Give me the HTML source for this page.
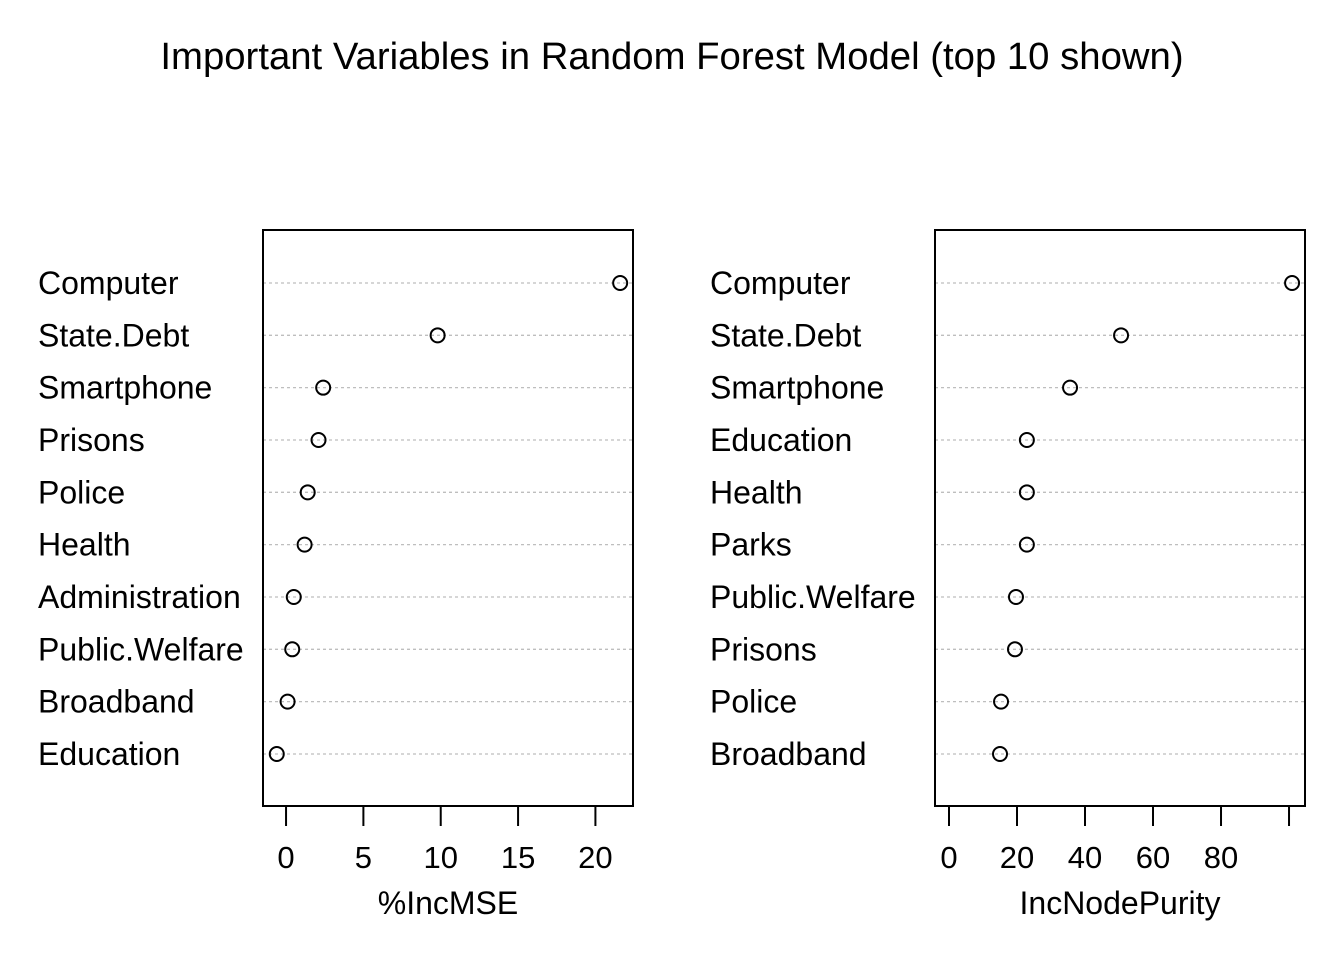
<!DOCTYPE html>
<html><head><meta charset="utf-8"><style>
body{margin:0;background:#fff}
svg text{font-family:"Liberation Sans",Arial,sans-serif;fill:#000}
</style></head><body>
<svg id="chart" width="1344" height="960" xmlns="http://www.w3.org/2000/svg">
<text x="672" y="69" font-size="38.3" text-anchor="middle">Important Variables in Random Forest Model (top 10 shown)</text>
<g id="p1"></g>
<g id="p2"></g>
</svg>
<script>
const mseLabels = ["Computer","State.Debt","Smartphone","Prisons","Police","Health","Administration","Public.Welfare","Broadband","Education"];
const mseValues = [21.6,9.8,2.4,2.1,1.4,1.2,0.5,0.4,0.1,-0.6];
const mseTicks = [0,5,10,15,20];
const purLabels = ["Computer","State.Debt","Smartphone","Education","Health","Parks","Public.Welfare","Prisons","Police","Broadband"];
const purValues = [100.9,50.6,35.6,22.9,22.9,22.9,19.7,19.4,15.3,15.0];
const purTicks = [0,20,40,60,80,100];
const purTickLabels = ["0","20","40","60","80",""];
const NS="http://www.w3.org/2000/svg";
function mk(g,tag,attrs){const e=document.createElementNS(NS,tag);for(const k in attrs)e.setAttribute(k,attrs[k]);g.appendChild(e);return e;}
function panel(gid,labels,values,ticks,tickLabels,bx0,bx1,xmin,xmax,labelX,title){
  const g=document.getElementById(gid);
  const by0=230,by1=806;
  const x=v=>bx0+(v-xmin)/(xmax-xmin)*(bx1-bx0);
  const y=i=>283+i*52.33;
  labels.forEach((l,i)=>{
    const ln=mk(g,'line',{x1:bx0,x2:bx1,y1:y(i),y2:y(i),stroke:'#bebebe','stroke-width':1.3,'stroke-dasharray':'3,3'});
    
    
    const t=mk(g,'text',{x:labelX,y:y(i)+11,'font-size':32});
    t.textContent=l;
    
    
    const c=mk(g,'circle',{cx:x(values[i]),cy:y(i),r:7,fill:'none',stroke:'#000','stroke-width':2});
    
    
  });
  const r=mk(g,'rect',{x:bx0,y:by0,width:bx1-bx0,height:by1-by0,fill:'none',stroke:'#000','stroke-width':2});
  
  
  ticks.forEach((tv,i)=>{
    const tl=mk(g,'line',{x1:x(tv),x2:x(tv),y1:by1,y2:by1+20,stroke:'#000','stroke-width':2});
    
    
    const tt=mk(g,'text',{x:x(tv),y:868,'font-size':31,'text-anchor':'middle'});
    tt.textContent=tickLabels[i];
    
    
  });
  const ax=mk(g,'line',{x1:x(ticks[0]),x2:x(ticks[ticks.length-1]),y1:by1,y2:by1,stroke:'#000','stroke-width':2});
  
  
  const at=mk(g,'text',{x:(bx0+bx1)/2,y:914,'font-size':32,'text-anchor':'middle'});
  at.textContent=title;
  
  
}
panel('p1',mseLabels,mseValues,mseTicks,mseTicks.map(String),263,633,-1.49,22.43,38,'%IncMSE');
panel('p2',purLabels,purValues,purTicks,purTickLabels,935,1305,-4.12,104.7,710,'IncNodePurity');
</script>
</body></html>
